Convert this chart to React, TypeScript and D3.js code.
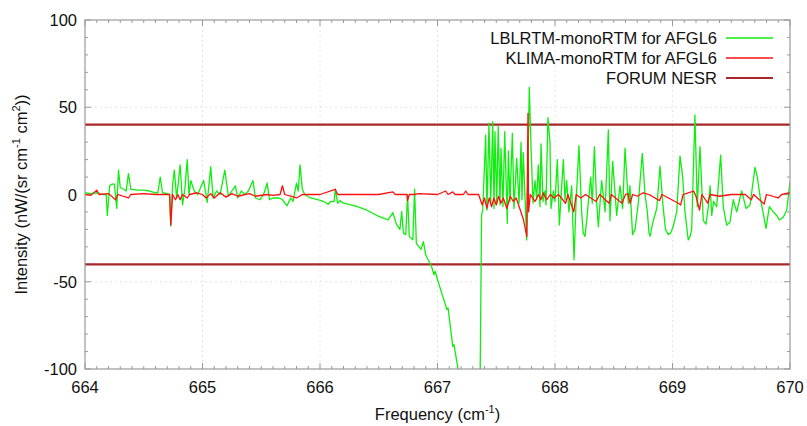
import React from "react";
import * as d3 from "d3";

// Spectral residuals (frequency in cm-1, intensity in nW/(sr cm-1 cm2))
const lblFreq = [
  664.00, 664.05, 664.10, 664.15, 664.18, 664.19, 664.21, 664.23, 664.25, 664.27,
  664.285, 664.30, 664.33, 664.35, 664.37, 664.39, 664.45, 664.50, 664.55, 664.60,
  664.62, 664.64, 664.66, 664.70, 664.72, 664.73, 664.745, 664.76, 664.78, 664.81,
  664.83, 664.85, 664.87, 664.885, 664.90, 664.93, 664.96, 664.99, 665.01, 665.04,
  665.07, 665.09, 665.12, 665.15, 665.19, 665.22, 665.25, 665.28, 665.30, 665.33,
  665.36, 665.39, 665.43, 665.45, 665.49, 665.52, 665.55, 665.57, 665.60, 665.65,
  665.68, 665.72, 665.75, 665.77, 665.80, 665.815, 665.83, 665.85, 665.87, 665.92,
  665.98, 666.03, 666.07, 666.09, 666.12, 666.13, 666.15, 666.17, 666.20, 666.30,
  666.40, 666.50, 666.58, 666.62, 666.65, 666.68, 666.695, 666.71, 666.73, 666.745,
  666.76, 666.79, 666.805, 666.82, 666.86, 666.88, 666.90, 666.95, 666.97, 666.98,
  667.00, 667.08, 667.09, 667.13, 667.14, 667.18, 667.22, 667.30, 667.355, 667.375,
  667.385, 667.410, 667.421, 667.438, 667.453, 667.470, 667.481, 667.489, 667.504, 667.517,
  667.532, 667.540, 667.557, 667.572, 667.594, 667.603, 667.617, 667.637, 667.651, 667.674,
  667.694, 667.711, 667.719, 667.730, 667.759, 667.781, 667.796, 667.813, 667.830, 667.844,
  667.858, 667.872, 667.881, 667.898, 667.915, 667.923, 667.940, 667.957, 667.966, 667.986,
  668.000, 668.020, 668.037, 668.071, 668.085, 668.099, 668.119, 668.142, 668.162, 668.179,
  668.204, 668.227, 668.240, 668.255, 668.270, 668.283, 668.304, 668.317, 668.335, 668.355,
  668.369, 668.397, 668.426, 668.454, 668.468, 668.491, 668.525, 668.553, 668.576, 668.596,
  668.624, 668.638, 668.660, 668.681, 668.709, 668.743, 668.766, 668.786, 668.800, 668.809,
  668.820, 668.837, 668.866, 668.894, 668.917, 668.940, 668.964, 668.985, 669.007, 669.036,
  669.064, 669.087, 669.106, 669.134, 669.150, 669.163, 669.191, 669.211, 669.234, 669.262,
  669.285, 669.305, 669.320, 669.334, 669.350, 669.376, 669.410, 669.432, 669.461, 669.489,
  669.517, 669.546, 669.589, 669.626, 669.660, 669.702, 669.722, 669.745, 669.796, 669.824,
  669.858, 669.887, 669.909, 669.943, 669.972, 670.000,
];
const lblValue = [
  1, 0.5, 1, 0, 0, -12, 5, 6, 6, -8,
  14, 4, 3, 2, 12, 3, 2.5, 2.5, 2, 1,
  1, 10, 1, 0.5, 0, -18, 5, 14, -2, 17,
  -6, 3, 20, 0, 8, 2, 0, 5, 8, -4.5,
  16, -2, 2, 0, 14, -1, 2, 5, -2, 2,
  0, 2, 8, -2, -3, 0, 6.5, -3, -2, -2,
  -3, -6.5, -2, -4, 6.5, 2, 17, 3, 0, -2,
  -3, -4, -5.6, -4, -4, 3, -5, -3.5, -5, -6.5,
  -9, -12.5, -14.5, -10.4, -17, -20, -9.8, -22, -23, 0,
  -24, -26, 3, -28, -31.4, -27, -34.7, -41.4, -46, -44,
  -48.7, -66, -65, -87, -86, -102, -120, -150, -165, -12,
  -9, 34, -9, 40.8, -5, 41.7, -8, 36, -5, 39,
  -6, 26.5, -7, 36, -16.5, 25, -4, 35, -8, 20.7,
  -5, 30, -3, 24, -26, 61.4, 27, -5, 8, -3,
  17, -7, 29, -4, 2, -6, 44, 30, -8, 2,
  -4, 20, -17.5, 20, -3, 8, -10, 5, -37.5, -5,
  28, -10, -22, -24, -15, -5, 10, -5, 27.4, -5,
  -18.5, 8, -10, 37, -15, 19, -12, 5, -8, 26.5,
  -5, 5, -23, -20, -5, 23.6, 0, -10, -22, -24,
  -20, -15, -8, 16.3, -5, -20, -23, -22, -18, -10,
  22, 10, -10, -26, -24, -20, 45.6, -7, 27.4, -15,
  -17, -7, 5, -12, -4, -7, 22.6, -7, -17.5, -16,
  -3, -10, 2, -8, -6, 15.6, 10, -1, -19.4, -7,
  -10, -12, -14.6, -13, -9, 7.5,
];

const klimaFreq = [
  664.00, 664.05, 664.10, 664.12, 664.20, 664.26, 664.28, 664.37, 664.39, 664.50,
  664.60, 664.72, 664.73, 664.745, 664.77, 664.79, 664.81, 664.83, 664.87, 664.89,
  664.95, 665.00, 665.03, 665.07, 665.10, 665.15, 665.20, 665.25, 665.30, 665.40,
  665.45, 665.55, 665.60, 665.66, 665.68, 665.70, 665.75, 665.80, 665.85, 666.00,
  666.13, 666.15, 666.50, 666.62, 666.64, 666.74, 666.745, 666.76, 666.80, 666.84,
  667.00, 667.07, 667.09, 667.13, 667.15, 667.22, 667.24, 667.26, 667.35, 667.38,
  667.40, 667.42, 667.44, 667.46, 667.48, 667.50, 667.52, 667.54, 667.56, 667.59,
  667.62, 667.645, 667.67, 667.70, 667.73, 667.76, 667.77, 667.775, 667.79, 667.83,
  667.86, 667.88, 667.90, 667.93, 667.96, 667.99, 668.03, 668.09, 668.11, 668.16,
  668.18, 668.22, 668.26, 668.35, 668.38, 668.46, 668.48, 668.57, 668.60, 668.62,
  668.64, 668.66, 668.70, 668.75, 668.80, 668.89, 668.91, 669.05, 669.07, 669.09,
  669.18, 669.20, 669.23, 669.25, 669.30, 669.32, 669.40, 669.50, 669.62, 669.67,
  669.69, 669.78, 669.80, 669.90, 669.93, 670.00,
];
const klimaValue = [
  0, -0.5, 2.5, 0, 0.5, -3, 0, -2, 0, 0.5,
  0, 0, -17.5, 0, -3, 0, -3, 0, -2, 0,
  1, 0, -2, 0.5, -2, 1, -1.5, 0.5, -1, 0.5,
  -1, 0, -0.5, 0, 5, 0, -1, -2, 0, 0,
  3, 0, 0, 1.5, 0, 0, -3.5, 0, 0, 0.5,
  0, 2, 0, 1.5, 0, 0, 2, 0, 0, -6,
  -2, -8, -2, -7, -2, -6, -1, -5, -2, -8,
  -1, -4, -2, -8, -14, -24, 46.5, -10, 0, -4,
  0, -3, 1, -3, 0, -2, 0, -5, 0, -10,
  0, -2, 0, -4, 0, -5, 0, -5, 0, 0.5,
  -5, 0, -1, 1, 0, -3.5, 0, -5, -6, 0,
  2, -1, -9, 0, -5, 0, -1, 0, 0, -3,
  0, -5.5, 0, -2, 0, 1,
];

const nesrLevels = [40, -40];

const xMajorTicks = [664, 665, 666, 667, 668, 669, 670];
const yMajorTicks = [-100, -50, 0, 50, 100];

const legendLabels = ["LBLRTM-monoRTM for AFGL6", "KLIMA-monoRTM for AFGL6", "FORUM NESR"];

const W = 807;
const H = 426;
const M = { left: 85, right: 17, top: 20, bottom: 57 };
const FONT = "'Liberation Sans', Arial, sans-serif";
const GREEN = "#10ee10";
const RED = "#ff1010";
const DARKRED = "#a8282a";
const AXIS = "#9a9a9a";

export default function App() {
  const x = d3.scaleLinear().domain([664, 670]).range([M.left, W - M.right]);
  const y = d3.scaleLinear().domain([-100, 100]).range([H - M.bottom, M.top]);

  const line = d3
    .line<[number, number]>()
    .x((d) => x(d[0]))
    .y((d) => y(d[1]));

  const lblData: [number, number][] = lblFreq.map((f, i) => [f, lblValue[i]]);
  const klimaData: [number, number][] = klimaFreq.map((f, i) => [f, klimaValue[i]]);

  const xMinor = d3.range(0, 61).map((i) => 664 + i * 0.1);
  const yMinor = d3.range(0, 21).map((i) => -100 + i * 10);

  const [x0, x1] = x.range();
  const [y0, y1] = [y(-100), y(100)];

  const colors = [GREEN, RED, DARKRED];
  const legendWidths = [1.3, 1.3, 2.2];

  return (
    <svg
      width={W}
      height={H}
      style={{ position: "fixed", left: 0, top: 0, background: "#fff" }}
      fontFamily={FONT}
    >
      <defs>
        <clipPath id="plotArea">
          <rect x={x0} y={y1} width={x1 - x0} height={y0 - y1} />
        </clipPath>
      </defs>

      {/* grid */}
      {xMajorTicks.slice(1, -1).map((t) => (
        <line key={"gx" + t} x1={x(t)} x2={x(t)} y1={y1} y2={y0} stroke="#e4e4e4" strokeDasharray="2,3" />
      ))}
      {yMajorTicks.slice(1, -1).map((t) => (
        <line key={"gy" + t} x1={x0} x2={x1} y1={y(t)} y2={y(t)} stroke="#e4e4e4" strokeDasharray="2,3" />
      ))}

      {/* minor and major ticks on all four sides */}
      {xMinor.map((t, i) => {
        const len = i % 10 === 0 ? 6 : 3;
        return (
          <g key={"xt" + i} stroke={AXIS} strokeWidth={1}>
            <line x1={x(t)} x2={x(t)} y1={y0} y2={y0 - len} />
            <line x1={x(t)} x2={x(t)} y1={y1} y2={y1 + len} />
          </g>
        );
      })}
      {yMinor.map((t, i) => {
        const len = i % 5 === 0 ? 6 : 3;
        return (
          <g key={"yt" + i} stroke={AXIS} strokeWidth={1}>
            <line x1={x0} x2={x0 + len} y1={y(t)} y2={y(t)} />
            <line x1={x1} x2={x1 - len} y1={y(t)} y2={y(t)} />
          </g>
        );
      })}

      {/* data */}
      <g clipPath="url(#plotArea)">
        {nesrLevels.map((v) => (
          <line key={"n" + v} x1={x0} x2={x1} y1={y(v)} y2={y(v)} stroke={DARKRED} strokeWidth={2.2} />
        ))}
        <path d={line(lblData) || ""} fill="none" stroke={GREEN} strokeWidth={1.3} strokeLinejoin="round" />
        <path d={line(klimaData) || ""} fill="none" stroke={RED} strokeWidth={1.3} strokeLinejoin="round" />
      </g>

      {/* border */}
      <rect x={x0} y={y1} width={x1 - x0} height={y0 - y1} fill="none" stroke={AXIS} strokeWidth={1.2} />

      {/* tick labels */}
      {xMajorTicks.map((t) => (
        <text key={"xl" + t} x={x(t)} y={y0 + 24} textAnchor="middle" fontSize={16.5} fill="#111">
          {t}
        </text>
      ))}
      {yMajorTicks.map((t) => (
        <text key={"yl" + t} x={x0 - 8} y={y(t) + 6} textAnchor="end" fontSize={16.5} fill="#111">
          {t}
        </text>
      ))}

      {/* axis titles */}
      <text x={(x0 + x1) / 2} y={H - 6} textAnchor="middle" fontSize={16.5} fill="#111">
        Frequency (cm
        <tspan dy={-7} fontSize={11}>-1</tspan>
        <tspan dy={7}>)</tspan>
      </text>
      <text
        transform={`translate(27,${(y0 + y1) / 2}) rotate(-90)`}
        textAnchor="middle"
        fontSize={16.5}
        fill="#111"
      >
        Intensity (nW/(sr cm
        <tspan dy={-7} fontSize={11}>-1</tspan>
        <tspan dy={7}> cm</tspan>
        <tspan dy={-7} fontSize={11}>2</tspan>
        <tspan dy={7}>))</tspan>
      </text>

      {/* legend */}
      {legendLabels.map((label, i) => {
        const ly = 38 + i * 20;
        return (
          <g key={"lg" + i}>
            <text x={717} y={ly + 6} textAnchor="end" fontSize={16.5} fill="#111">
              {label}
            </text>
            <line x1={726} x2={773} y1={ly} y2={ly} stroke={colors[i]} strokeWidth={legendWidths[i]} />
          </g>
        );
      })}
    </svg>
  );
}
